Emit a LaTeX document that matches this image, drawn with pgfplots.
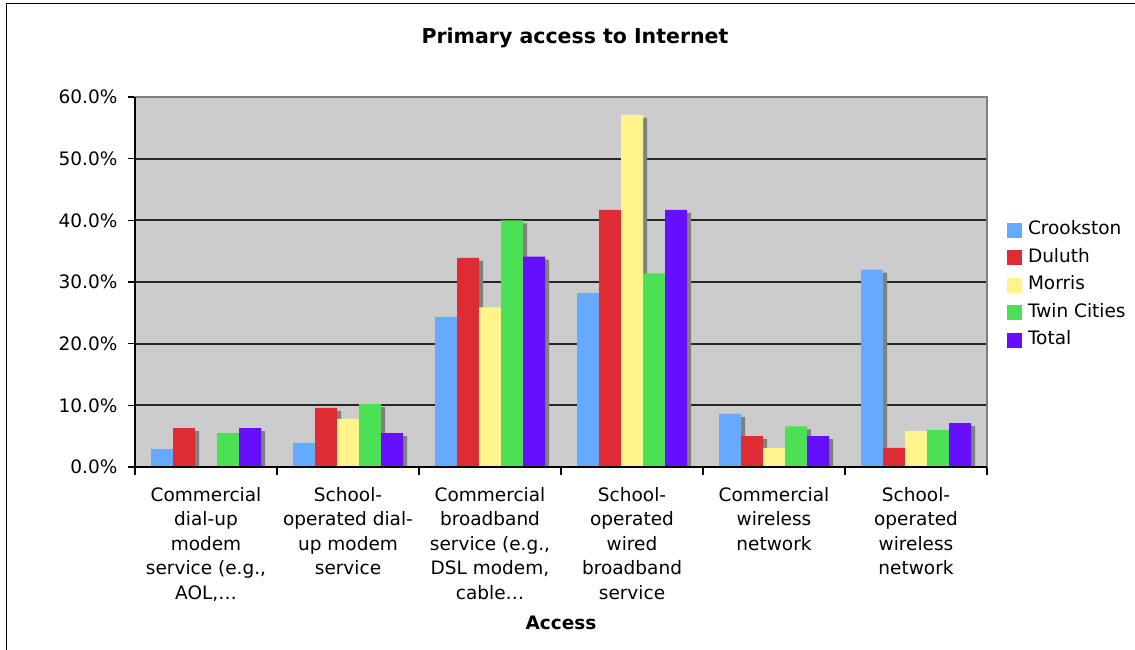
\documentclass[border=0pt]{standalone}
\usepackage{pgfplots}
\pgfplotsset{compat=1.18}
\usepackage{pgfplotstable}
\usepackage{fontspec}
\setmainfont{DejaVu Sans}
\definecolor{crook}{RGB}{102,170,255}
\definecolor{duluth}{RGB}{221,44,51}
\definecolor{morris}{RGB}{255,244,140}
\definecolor{twin}{RGB}{76,225,85}
\definecolor{total}{RGB}{102,15,255}
\definecolor{bgc}{RGB}{204,204,204}
\definecolor{shad}{RGB}{128,128,128}
\newcommand\lblfont{\fontsize{18.5}{24.4}\selectfont}
\pgfplotstableread{
cat crook duluth morris twin total
0 2.9 6.3 0 5.5 6.3
1 3.9 9.6 7.8 10.2 5.5
2 24.3 33.9 25.9 40.0 34.1
3 28.2 41.7 57.1 31.4 41.7
4 8.6 5.0 3.1 6.6 5.0
5 32.0 3.1 5.8 6.0 7.1
}\datatable
\begin{document}
\begin{tikzpicture}[x=1pt,y=1pt]
\useasboundingbox (0,0) rectangle (1135,649);
\draw[line width=1.5pt] (6.5,-10) -- (6.5,645.5) -- (1145,645.5);
\node[font=\bfseries\fontsize{20.5}{24}\selectfont] at (575,611) {Primary access to Internet};
\begin{axis}[
  at={(135pt,182pt)}, anchor=south west,
  scale only axis, width=852pt, height=370pt,
  xmin=-0.5, xmax=5.5, ymin=0, ymax=60,
  axis background/.style={fill=bgc},
  axis line style={draw=gray, line width=1.2pt},
  ytick={0,10,20,30,40,50,60},
  yticklabel={\pgfmathprintnumber[fixed,fixed zerofill,precision=1]{\tick}\%},
  /pgf/number format/assume math mode=true,
  ymajorgrids,
  major grid style={draw=black!85, line width=1.7pt},
  xtick={0,1,2,3,4,5},
  xticklabels={
    {Commercial\\dial-up\\modem\\service (e.g.,\\AOL,\ldots},
    {School-\\operated dial-\\up modem\\service},
    {Commercial\\broadband\\service (e.g.,\\DSL modem,\\cable\ldots},
    {School-\\operated\\wired\\broadband\\service},
    {Commercial\\wireless\\network},
    {School-\\operated\\wireless\\network}},
  minor xtick={-0.5,0.5,1.5,2.5,3.5,4.5,5.5},
  tick align=outside,
  major tick length=7pt, minor tick length=8pt,
  major x tick style={draw=none},
  tick style={black, line width=1.2pt},
  xtick pos=bottom, ytick pos=left,
  tick label style={font=\lblfont},
  xticklabel style={align=center, anchor=north, yshift=-10pt},
  yticklabel style={xshift=-7pt},
  legend style={at={(1,0.5)}, anchor=west, xshift=20pt, yshift=-3pt, draw=none, fill=none,
    inner sep=0pt, outer sep=0pt, font=\lblfont, row sep=9pt, column sep=6pt,
    nodes={inner sep=0pt, text height=14pt, text depth=4.5pt}},
  legend cell align=left,
  legend image code/.code={\fill[#1] (0pt,-7.5pt) rectangle (15pt,7.5pt);},
]
\addplot[/tikz/ybar, bar width=22pt, bar shift=-40pt, yshift=-3pt, fill=shad, draw=none, forget plot] table[x=cat,y=crook] {\datatable};
\addplot[/tikz/ybar, bar width=22pt, bar shift=-44pt, fill=crook, draw=none] table[x=cat,y=crook] {\datatable};
\addplot[/tikz/ybar, bar width=22pt, bar shift=-18pt, yshift=-3pt, fill=shad, draw=none, forget plot] table[x=cat,y=duluth] {\datatable};
\addplot[/tikz/ybar, bar width=22pt, bar shift=-22pt, fill=duluth, draw=none] table[x=cat,y=duluth] {\datatable};
\addplot[/tikz/ybar, bar width=22pt, bar shift=4pt, yshift=-3pt, fill=shad, draw=none, forget plot] table[x=cat,y=morris] {\datatable};
\addplot[/tikz/ybar, bar width=22pt, bar shift=0pt, fill=morris, draw=none] table[x=cat,y=morris] {\datatable};
\addplot[/tikz/ybar, bar width=22pt, bar shift=26pt, yshift=-3pt, fill=shad, draw=none, forget plot] table[x=cat,y=twin] {\datatable};
\addplot[/tikz/ybar, bar width=22pt, bar shift=22pt, fill=twin, draw=none] table[x=cat,y=twin] {\datatable};
\addplot[/tikz/ybar, bar width=22pt, bar shift=48pt, yshift=-3pt, fill=shad, draw=none, forget plot] table[x=cat,y=total] {\datatable};
\addplot[/tikz/ybar, bar width=22pt, bar shift=44pt, fill=total, draw=none] table[x=cat,y=total] {\datatable};
\legend{Crookston,Duluth,Morris,Twin Cities,Total}
\end{axis}
\draw[black, line width=2pt] (135,552) -- (135,182) -- (987,182);
\node[font=\bfseries\lblfont] at (561,26) {Access};
\end{tikzpicture}
\end{document}
